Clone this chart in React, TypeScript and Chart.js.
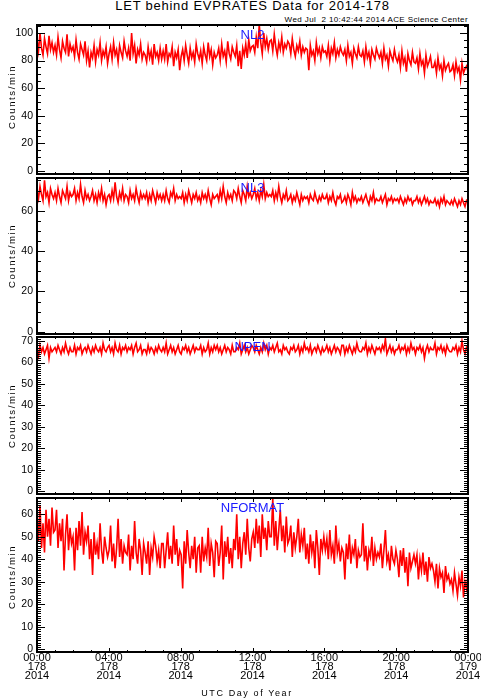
import React, { useEffect, useRef } from "react";
import { Chart, registerables } from "chart.js";

Chart.register(...registerables);

const TITLE = "LET behind EVPRATES Data for 2014-178";
const SUBTITLE = "Wed Jul  2 10:42:44 2014 ACE Science Center";
const Y_TITLE = "Counts/min";
const X_TITLE = "UTC Day of Year";

const panelNames = ["NL2", "NL3", "NPEN", "NFORMAT"];

const dayStartHour = 0;
const dayEndHour = 24;
const xTickHours = [0, 4, 8, 12, 16, 20, 24];
const xTickLabels = [
  ["00:00", "178", "2014"],
  ["04:00", "178", "2014"],
  ["08:00", "178", "2014"],
  ["12:00", "178", "2014"],
  ["16:00", "178", "2014"],
  ["20:00", "178", "2014"],
  ["00:00", "179", "2014"],
];

// 5-minute samples over the day (one row = one hour)
const nl2 = [
  95, 87, 100, 89, 84, 96, 90, 85, 98, 88, 93, 86,
  91, 84, 97, 88, 82, 94, 89, 86, 99, 83, 92, 87,
  90, 83, 95, 86, 81, 92, 88, 84, 94, 80, 87, 75,
  86, 82, 91, 79, 88, 84, 93, 80, 87, 83, 90, 78,
  85, 90, 81, 93, 84, 88, 79, 91, 86, 82, 94, 87,
  83, 89, 80, 100, 85, 91, 78, 88, 84, 92, 81, 86,
  84, 79, 90, 82, 87, 77, 92, 83, 86, 80, 89, 81,
  87, 81, 92, 79, 85, 83, 90, 76, 86, 82, 88, 73,
  83, 88, 80, 91, 84, 78, 89, 82, 86, 79, 92, 85,
  81, 87, 78, 90, 84, 80, 93, 83, 88, 77, 86, 82,
  84, 89, 80, 92, 83, 87, 79, 94, 85, 81, 90, 86,
  83, 91, 76, 87, 74, 89, 84, 92, 82, 95, 87, 90,
  91, 86, 97, 89, 106, 93, 85, 100, 90, 96, 88, 94,
  95, 87, 99, 90, 84, 93, 88, 97, 86, 92, 89, 94,
  92, 85, 96, 88, 83, 91, 87, 94, 84, 90, 86, 89,
  88, 73, 91, 84, 87, 80, 93, 85, 89, 82, 90, 86,
  87, 83, 91, 80, 89, 85, 93, 82, 88, 84, 90, 86,
  84, 88, 80, 91, 83, 86, 78, 89, 85, 82, 90, 84,
  83, 87, 79, 90, 82, 86, 78, 88, 84, 81, 89, 85,
  82, 86, 78, 89, 81, 84, 76, 87, 83, 80, 88, 82,
  79, 84, 75, 87, 78, 82, 72, 85, 80, 77, 86, 79,
  78, 82, 74, 85, 77, 80, 71, 84, 76, 79, 83, 75,
  75, 79, 71, 82, 74, 77, 69, 80, 73, 76, 78, 72,
  73, 77, 69, 79, 72, 75, 66, 78, 71, 74, 76, 72,
];

const nl3 = [
  70, 66, 72, 68, 65, 75, 67, 69, 64, 71, 68, 66,
  69, 65, 71, 67, 64, 70, 68, 66, 72, 65, 69, 67,
  68, 71, 65, 69, 66, 73, 67, 64, 70, 66, 68, 65,
  67, 70, 65, 68, 64, 69, 66, 71, 65, 68, 63, 67,
  68, 65, 70, 66, 74, 67, 64, 69, 66, 71, 65, 68,
  67, 64, 70, 66, 68, 65, 71, 67, 64, 69, 66, 68,
  66, 69, 64, 68, 65, 70, 67, 64, 69, 66, 68, 65,
  68, 65, 70, 66, 64, 69, 67, 71, 65, 68, 66, 67,
  66, 69, 64, 68, 65, 70, 67, 64, 68, 66, 69, 65,
  67, 64, 69, 66, 68, 65, 70, 66, 63, 68, 66, 67,
  68, 65, 70, 66, 72, 67, 64, 69, 66, 68, 65, 70,
  69, 66, 71, 67, 64, 70, 68, 65, 72, 67, 69, 66,
  68, 71, 66, 69, 65, 70, 67, 73, 66, 69, 67, 68,
  67, 70, 65, 69, 66, 72, 67, 64, 68, 66, 70, 65,
  66, 68, 64, 67, 65, 69, 66, 63, 68, 65, 67, 66,
  67, 64, 68, 66, 65, 69, 66, 64, 67, 65, 68, 66,
  66, 68, 64, 67, 65, 69, 65, 63, 67, 66, 68, 64,
  65, 67, 64, 68, 66, 63, 69, 65, 67, 64, 66, 65,
  67, 64, 66, 68, 65, 63, 67, 65, 69, 64, 66, 65,
  65, 67, 64, 66, 68, 63, 66, 65, 67, 64, 66, 65,
  66, 64, 67, 65, 63, 66, 64, 67, 65, 66, 63, 65,
  65, 67, 64, 66, 63, 65, 67, 64, 66, 63, 65, 64,
  64, 66, 63, 65, 62, 66, 64, 67, 63, 65, 64, 63,
  65, 63, 66, 64, 62, 65, 63, 66, 64, 62, 65, 64,
];

const npen = [
  66, 63, 68, 65, 67, 64, 66, 68, 62, 67, 65, 66,
  67, 65, 68, 66, 64, 67, 65, 69, 66, 64, 67, 65,
  65, 68, 64, 67, 66, 68, 64, 66, 67, 65, 68, 66,
  64, 67, 65, 68, 66, 65, 67, 64, 69, 66, 65, 67,
  68, 65, 67, 64, 69, 66, 65, 68, 64, 67, 66, 68,
  65, 67, 66, 68, 64, 67, 69, 65, 66, 68, 64, 66,
  66, 64, 68, 65, 67, 66, 64, 67, 65, 68, 66, 65,
  67, 65, 69, 64, 66, 68, 65, 67, 64, 66, 68, 65,
  64, 67, 66, 68, 65, 67, 64, 66, 68, 65, 67, 66,
  66, 68, 64, 67, 65, 66, 69, 64, 67, 65, 68, 66,
  68, 65, 67, 64, 66, 68, 65, 67, 66, 64, 68, 65,
  65, 67, 66, 69, 64, 66, 68, 65, 67, 64, 66, 68,
  67, 65, 68, 66, 64, 67, 65, 69, 66, 68, 64, 67,
  66, 68, 65, 67, 69, 65, 66, 64, 68, 66, 67, 65,
  64, 67, 66, 68, 65, 66, 68, 64, 67, 65, 69, 66,
  67, 65, 68, 64, 66, 67, 65, 68, 66, 64, 67, 65,
  66, 68, 65, 67, 64, 66, 68, 65, 67, 66, 64, 68,
  68, 64, 67, 65, 68, 66, 64, 67, 65, 69, 66, 65,
  65, 67, 66, 69, 64, 67, 65, 68, 66, 64, 67, 66,
  67, 65, 68, 66, 71, 64, 66, 68, 65, 67, 64, 66,
  66, 68, 65, 67, 66, 68, 64, 67, 65, 69, 66, 67,
  64, 67, 66, 68, 65, 67, 62, 66, 68, 65, 67, 66,
  66, 69, 64, 67, 66, 68, 65, 67, 64, 68, 66, 65,
  65, 67, 66, 68, 64, 67, 65, 70, 66, 64, 67, 66,
];

const nformat = [
  60, 48, 64, 45, 56, 43, 62, 50, 58, 46, 63, 52,
  53, 62, 45, 56, 48, 58, 35, 51, 60, 44, 54, 47,
  50, 35, 54, 44, 57, 46, 61, 42, 52, 48, 55, 40,
  49, 33, 52, 42, 47, 40, 56, 44, 38, 50, 45, 41,
  44, 55, 39, 47, 36, 45, 58, 41, 49, 38, 46, 43,
  42, 51, 35, 46, 40, 57, 43, 38, 49, 44, 33, 47,
  43, 38, 48, 33, 45, 41, 50, 46, 39, 44, 36, 47,
  47, 36, 44, 52, 40, 46, 38, 55, 42, 49, 37, 44,
  42, 27, 48, 38, 53, 43, 36, 46, 40, 50, 34, 45,
  46, 34, 50, 39, 45, 41, 54, 37, 47, 43, 32, 48,
  47, 37, 43, 55, 31, 48, 41, 50, 38, 45, 36, 49,
  44, 60, 40, 50, 36, 47, 52, 42, 58, 45, 39, 49,
  52, 45, 58, 47, 55, 41, 60, 49, 54, 44, 57, 50,
  50, 67, 46, 57, 44, 53, 62, 48, 55, 43, 59, 47,
  49, 55, 41, 52, 45, 50, 58, 43, 51, 46, 54, 40,
  47, 38, 51, 43, 48, 36, 53, 45, 33, 49, 44, 50,
  44, 49, 40, 53, 42, 46, 38, 55, 43, 47, 39, 45,
  43, 31, 47, 40, 51, 38, 45, 42, 49, 36, 44, 41,
  42, 56, 39, 46, 35, 44, 41, 50, 37, 45, 40, 43,
  41, 47, 36, 44, 53, 39, 42, 35, 46, 40, 38, 44,
  40, 32, 44, 37, 45, 34, 41, 28, 43, 36, 39, 42,
  38, 42, 31, 40, 35, 43, 33, 39, 30, 41, 36, 38,
  35, 30, 38, 27, 36, 32, 34, 25, 37, 31, 33, 29,
  31, 26, 34, 29, 24, 32, 28, 35, 23, 30, 27, 33,
];

const seriesList = [nl2, nl3, npen, nformat];

// y-axis ranges
const yMins = [-2.2, -1.1, -1.26, -1.2];
const yMaxs = [105.8, 76.2, 71.9, 67.2];
const yMajorSteps = [20, 20, 10, 10];
const yMinorSteps = [5, 5, 1, 1];

// layout (pixels), kept apart from data
const PAGE_W = 481;
const PAGE_H = 700;
const FRAME_LEFT = 37;
const FRAME_RIGHT = 468;
const frameTops = [25, 178, 337, 498];
const frameBottoms = [174, 334, 494, 652];
const yTitleCenters = [97, 256, 416, 577];
const FONT = '"Liberation Sans", Arial, sans-serif';

function Panel({ idx }: { idx: number }) {
  const ref = useRef<HTMLCanvasElement | null>(null);
  const isLast = idx === seriesList.length - 1;
  const pad = 10;
  const canvasTop = frameTops[idx] - pad;
  const canvasH = isLast
    ? PAGE_H - canvasTop
    : frameBottoms[idx] - frameTops[idx] + 2 * pad;
  const xAxisH = isLast ? PAGE_H - frameBottoms[idx] : 0;

  useEffect(() => {
    if (!ref.current) return;
    const values = seriesList[idx];
    const n = values.length;
    const points = values.map((v, i) => ({
      x: dayStartHour + (i * (dayEndHour - dayStartHour)) / (n - 1),
      y: v,
    }));
    const major = yMajorSteps[idx];
    const minor = yMinorSteps[idx];
    const name = panelNames[idx];

    const framePlugin = {
      id: "frame" + idx,
      afterDraw(chart: any) {
        const { ctx, chartArea: a, scales } = chart;
        const xs = scales.x;
        const ys = scales.y;
        ctx.save();
        ctx.strokeStyle = "#000";
        ctx.lineWidth = 1;
        ctx.beginPath();
        const i0 = Math.ceil(ys.min / minor);
        const i1 = Math.floor(ys.max / minor);
        for (let k = i0; k <= i1; k++) {
          const v = k * minor;
          const py = Math.round(ys.getPixelForValue(v)) + 0.5;
          const r = v / major;
          const isMajor = Math.abs(r - Math.round(r)) < 1e-6;
          const len = isMajor ? 8 : 4;
          ctx.moveTo(a.left, py);
          ctx.lineTo(a.left + len, py);
          ctx.moveTo(a.right, py);
          ctx.lineTo(a.right - len, py);
        }
        for (let h = dayStartHour; h <= dayEndHour; h++) {
          const px = Math.round(xs.getPixelForValue(h)) + 0.5;
          const len = h % 4 === 0 ? 4 : 2;
          ctx.moveTo(px, a.bottom);
          ctx.lineTo(px, a.bottom - len);
          ctx.moveTo(px, a.top);
          ctx.lineTo(px, a.top + len);
        }
        ctx.stroke();
        ctx.lineWidth = 2;
        ctx.strokeRect(a.left, a.top, a.right - a.left, a.bottom - a.top);
        ctx.fillStyle = "#1a1aff";
        ctx.font = "13px " + FONT;
        ctx.textAlign = "center";
        ctx.textBaseline = "alphabetic";
        ctx.fillText(name, (a.left + a.right) / 2, a.top + 14);
        ctx.restore();
      },
    };

    const chart = new Chart(ref.current, {
      type: "line",
      data: {
        datasets: [
          {
            data: points,
            borderColor: "#ff0000",
            borderWidth: 1.6,
            pointRadius: 0,
            tension: 0,
            fill: false,
          },
        ],
      },
      options: {
        animation: false,
        responsive: false,
        events: [],
        layout: {
          padding: {
            left: 0,
            right: PAGE_W - FRAME_RIGHT,
            top: pad,
            bottom: isLast ? 0 : pad,
          },
        },
        plugins: {
          legend: { display: false },
          tooltip: { enabled: false },
        },
        scales: {
          x: {
            type: "linear",
            min: dayStartHour,
            max: dayEndHour,
            display: isLast,
            grid: { display: false, drawTicks: false },
            border: { display: false },
            afterBuildTicks: (s: any) => {
              s.ticks = xTickHours.map((v) => ({ value: v }));
            },
            ticks: {
              autoSkip: false,
              maxRotation: 0,
              minRotation: 0,
              padding: 2,
              color: "#000",
              font: { family: FONT, size: 11, lineHeight: 8.6 / 11 },
              callback: (v: any) => xTickLabels[xTickHours.indexOf(Number(v))],
            },
            afterFit: (s: any) => {
              s.height = xAxisH;
              s.paddingLeft = 0;
              s.paddingRight = 0;
            },
          },
          y: {
            type: "linear",
            min: yMins[idx],
            max: yMaxs[idx],
            grid: { display: false, drawTicks: false },
            border: { display: false },
            ticks: {
              stepSize: major,
              includeBounds: false,
              padding: 4,
              color: "#000",
              font: { family: FONT, size: 10.5 },
            },
            afterFit: (s: any) => {
              s.width = FRAME_LEFT;
              s.paddingTop = 0;
              s.paddingBottom = 0;
            },
          },
        },
      },
      plugins: [framePlugin],
    } as any);
    return () => chart.destroy();
  }, [idx]);

  return (
    <canvas
      ref={ref}
      width={PAGE_W}
      height={canvasH}
      style={{
        position: "absolute",
        left: 0,
        top: canvasTop,
        width: PAGE_W,
        height: canvasH,
      }}
    />
  );
}

export default function App() {
  return (
    <div
      style={{
        position: "absolute",
        left: 0,
        top: 0,
        width: PAGE_W,
        height: PAGE_H,
        background: "#fff",
        overflow: "hidden",
        fontFamily: FONT,
        color: "#000",
      }}
    >
      <div
        style={{
          position: "absolute",
          left: 0,
          top: -1,
          width: FRAME_LEFT + FRAME_RIGHT,
          textAlign: "center",
          fontSize: 13,
          lineHeight: "13px",
          letterSpacing: "0.75px",
          whiteSpace: "pre",
        }}
      >
        {TITLE}
      </div>
      <div
        style={{
          position: "absolute",
          right: PAGE_W - FRAME_RIGHT,
          top: 15.7,
          fontSize: 8,
          lineHeight: "8px",
          letterSpacing: "0.4px",
          whiteSpace: "pre",
        }}
      >
        {SUBTITLE}
      </div>
      {seriesList.map((_, i) => (
        <Panel key={i} idx={i} />
      ))}
      {seriesList.map((_, i) => (
        <div
          key={"yt" + i}
          style={{
            position: "absolute",
            left: 12,
            top: yTitleCenters[i],
            transform: "translate(-50%, -50%) rotate(-90deg)",
            fontSize: 9.5,
            lineHeight: "10px",
            letterSpacing: "1.6px",
            whiteSpace: "nowrap",
          }}
        >
          {Y_TITLE}
        </div>
      ))}
      <div
        style={{
          position: "absolute",
          left: 247,
          top: 693,
          transform: "translate(-50%, -50%)",
          fontSize: 9,
          lineHeight: "10px",
          letterSpacing: "1.6px",
          whiteSpace: "nowrap",
        }}
      >
        {X_TITLE}
      </div>
    </div>
  );
}
